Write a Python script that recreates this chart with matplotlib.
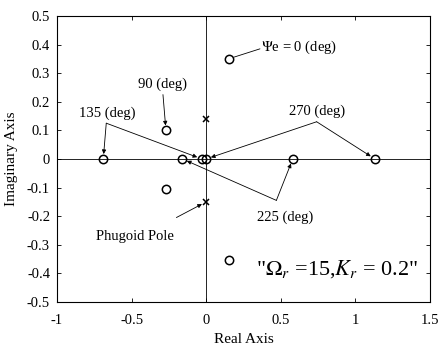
import matplotlib
matplotlib.use("Agg")
import matplotlib.pyplot as plt

plt.rcParams['font.family'] = ['Liberation Serif', 'DejaVu Serif']
plt.rcParams['mathtext.fontset'] = 'stix'

# zeros for each heading angle (real, imag)
zero_re = [0.15, 0.15, -0.27, -0.27, -0.69, -0.03, -0.16, 0.58, 0.0, 1.13]
zero_im = [0.35, -0.355, 0.10, -0.105, 0.0, 0.0, 0.0, 0.0, 0.0, 0.0]
# phugoid poles
pole_re = [0.0, 0.0]
pole_im = [0.14, -0.15]

x_ticks = [-1, -0.5, 0, 0.5, 1, 1.5]
y_ticks = [-0.5, -0.4, -0.3, -0.2, -0.1, 0, 0.1, 0.2, 0.3, 0.4, 0.5]

fig = plt.figure(figsize=(4.42, 3.47), dpi=100)
ax = fig.add_axes([0.129, 0.130, 0.844, 0.824])

ax.axhline(0, color='black', lw=0.6)
ax.axvline(0, color='black', lw=0.6)

ax.plot(zero_re, zero_im, 'o', mfc='none', mec='black', ms=6, mew=1.1)
ax.plot(pole_re, pole_im, 'x', color='black', ms=4.5, mew=1.1)

ax.set_xlim(-1, 1.5)
ax.set_ylim(-0.5, 0.5)
ax.set_xticks(x_ticks)
ax.set_xticklabels(['-1', '-0.5', '0', '0.5', '1', '1.5'])
ax.set_yticks(y_ticks)
ax.set_yticklabels(['-0.5', '-0.4', '-0.3', '-0.2', '-0.1', '0',
                    '0.1', '0.2', '0.3', '0.4', '0.5'])
ax.tick_params(direction='in', length=3, labelsize=10.5, width=0.6,
               top=True, right=True)
ax.tick_params(axis='x', pad=9)
ax.tick_params(axis='y', pad=5)
ax.set_xlabel('Real Axis', fontsize=11)
ax.set_ylabel('Imaginary Axis', fontsize=11)
ax.xaxis.set_label_coords(0.5, -0.11)
ax.yaxis.set_label_coords(-0.105, 0.5)
for s in ax.spines.values():
    s.set_linewidth(0.8)

arr = dict(arrowstyle='-|>', color='black', lw=0.6,
           mutation_scale=6, shrinkA=0, shrinkB=3.5)
line = dict(arrowstyle='-', color='black', lw=0.6, shrinkA=0, shrinkB=4)
fs = 10.5

# Psi_e = 0
ax.annotate('', xy=(0.15, 0.35), xytext=(0.36, 0.385), arrowprops=line)
ax.text(0.37, 0.39, r'$\Psi$e = 0 (deg)', fontsize=fs, va='center', ha='left')

# 90 deg
ax.text(-0.29, 0.26, '90 (deg)', fontsize=fs, ha='center', va='center')
ax.annotate('', xy=(-0.27, 0.10), xytext=(-0.29, 0.225), arrowprops=arr)

# 135 deg
ax.text(-0.665, 0.16, '135 (deg)', fontsize=fs, ha='center', va='center')
ax.annotate('', xy=(-0.69, 0.0), xytext=(-0.67, 0.125), arrowprops=arr)
ax.annotate('', xy=(-0.03, 0.0), xytext=(-0.67, 0.125), arrowprops=arr)

# 270 deg
ax.text(0.74, 0.165, '270 (deg)', fontsize=fs, ha='center', va='center')
ax.annotate('', xy=(0.0, 0.0), xytext=(0.74, 0.13), arrowprops=arr)
ax.annotate('', xy=(1.13, 0.0), xytext=(0.74, 0.13), arrowprops=arr)

# 225 deg
ax.text(0.53, -0.205, '225 (deg)', fontsize=fs, ha='center', va='center')
ax.annotate('', xy=(-0.16, 0.0), xytext=(0.47, -0.145), arrowprops=arr)
ax.annotate('', xy=(0.58, 0.0), xytext=(0.47, -0.145), arrowprops=arr)

# phugoid pole
ax.text(-0.48, -0.27, 'Phugoid Pole', fontsize=fs, ha='center', va='center')
ax.annotate('', xy=(0.0, -0.15), xytext=(-0.2, -0.205), arrowprops=arr)

ax.text(1.42, -0.385, r'"$\Omega_r$ =15,$K_r$ = 0.2"', fontsize=16,
        ha='right', va='center')

fig.savefig('out.png', dpi=100)
